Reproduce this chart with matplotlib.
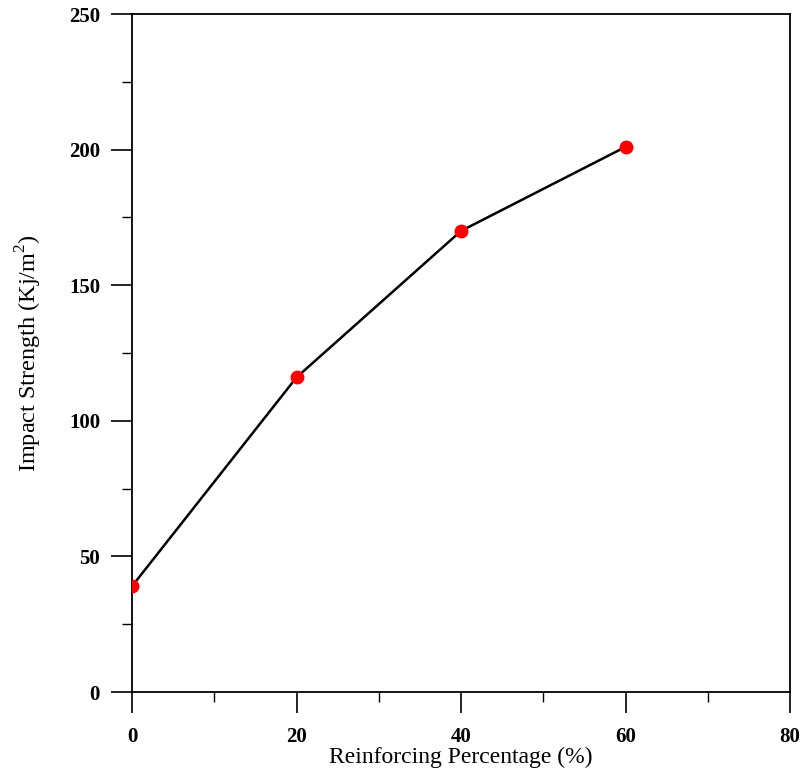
import numpy as np
import matplotlib.pyplot as plt
from matplotlib.ticker import MultipleLocator

# data
reinforcing = [0, 20, 40, 60]
impact_strength = [39, 116, 170, 201]

plt.rcParams['font.family'] = ['Liberation Serif', 'DejaVu Serif']
plt.rcParams['mathtext.fontset'] = 'custom'
plt.rcParams['mathtext.rm'] = 'Liberation Serif'

fig = plt.figure(figsize=(8.04, 7.8), dpi=100)
ax = fig.add_axes([132 / 804, 88 / 780, 658 / 804, 678 / 780])

ax.plot(reinforcing, impact_strength, color='black', linewidth=1.8, zorder=2)
ax.plot(reinforcing, impact_strength, 'o', color='red', markersize=9, zorder=3)

ax.set_xlim(0, 80)
ax.set_ylim(0, 250)
ax.xaxis.set_major_locator(MultipleLocator(20))
ax.xaxis.set_minor_locator(MultipleLocator(10))
ax.yaxis.set_major_locator(MultipleLocator(50))
ax.yaxis.set_minor_locator(MultipleLocator(25))

ax.tick_params(which='major', direction='out', length=15, width=1.2, labelsize=15, pad=10)
ax.tick_params(which='minor', direction='out', length=7, width=1.0)
ax.tick_params(axis='y', which='major', pad=8)
for lbl in ax.get_xticklabels() + ax.get_yticklabels():
    lbl.set_fontweight('bold')

for sp in ax.spines.values():
    sp.set_linewidth(1.3)

ax.set_xlabel('Reinforcing Percentage (%)', fontsize=17, labelpad=0)
ax.set_ylabel(r'Impact Strength (Kj/m$^2$)', fontsize=17.5, labelpad=18)

fig.savefig('out.png', dpi=100)
